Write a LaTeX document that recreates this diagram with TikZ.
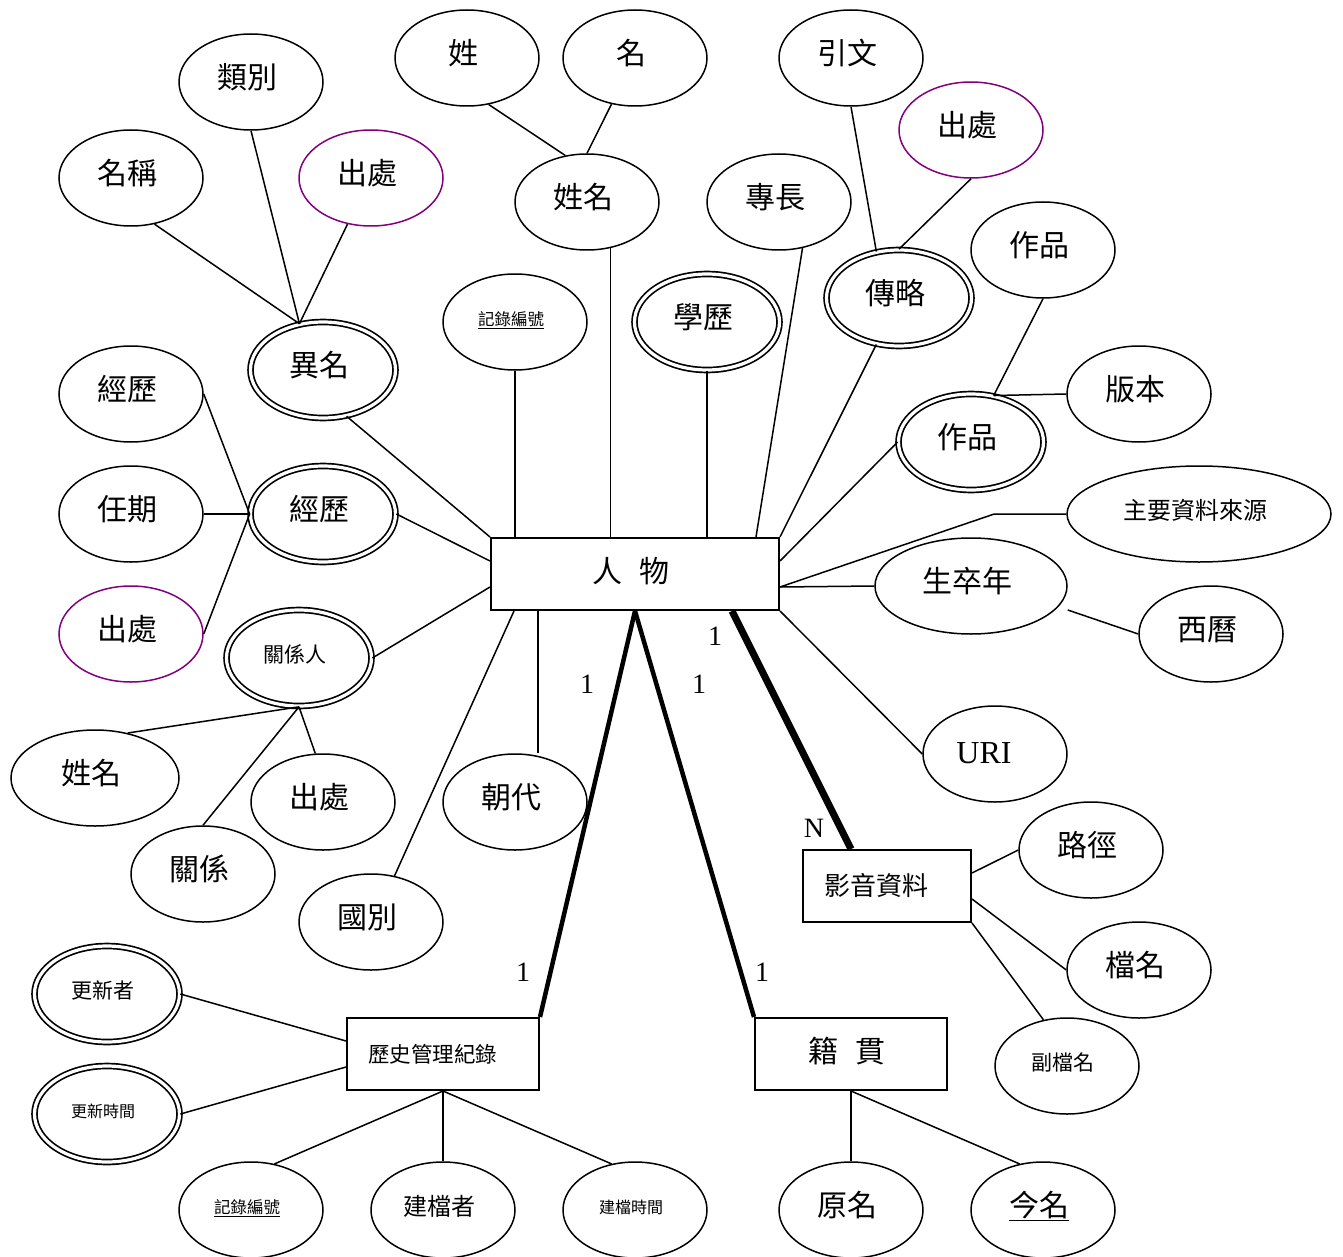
\documentclass[tikz,border=0pt]{standalone}
\usepackage{fontspec}
\setmainfont{Liberation Serif}
\newfontfamily\cjk{Noto Sans CJK TC}
\usetikzlibrary{shapes.geometric,calc}
\definecolor{srcpurple}{RGB}{128,0,128}
\newcommand\myfs[1]{\fontsize{#1}{#1}\selectfont}
\tikzset{
  nudge/.style={execute at end node={\kern8pt}, text height=#1, text depth=0pt},
  nudge/.default=12.5pt,
  attr/.style={ellipse, draw, line width=1.5pt, minimum width=144pt, minimum height=96pt, inner sep=0pt, font=\cjk\myfs{30}, nudge},
  src/.style={attr, draw=srcpurple},
  multi/.style={attr, double, double distance=3.2pt, line width=1.7pt, minimum width=145pt, minimum height=96pt},
  entity/.style={rectangle, draw, line width=2pt, minimum height=72pt, inner sep=0pt, font=\cjk\myfs{30}},
  conn/.style={line width=1.5pt},
  boldc/.style={line width=4.5pt},
  heavyc/.style={line width=7pt},
  card/.style={font=\myfs{28}, inner sep=0pt}
}
\begin{document}
\begin{tikzpicture}[x=1pt,y=-1pt]
\useasboundingbox (0,0) rectangle (1343,1257);
% entities
\node[entity, nudge=17pt, minimum width=288pt] (renwu) at (635,574) {人\hspace{17pt}物};
\node[entity, minimum width=168pt, text width=126pt, align=left, inner xsep=21pt, font=\cjk\myfs{26}] (yyzl) at (887,886) {影音資料};
\node[entity, minimum width=192pt, text width=150pt, align=left, inner xsep=21pt, font=\cjk\myfs{21.5}] (lishi) at (443,1054) {歷史管理紀錄};
\node[entity, nudge=17pt, minimum width=192pt] (jiguan) at (851,1054) {籍\hspace{17pt}貫};
% attributes
\node[attr] (leibie) at (251,82) {類別};
\node[attr] (mingcheng) at (131,178) {名稱};
\node[src] (chuchuA) at (371,178) {出處};
\node[attr] (xing) at (467,58) {姓};
\node[attr] (ming) at (635,58) {名};
\node[attr] (xingming) at (587,202) {姓名};
\node[attr] (zhuanchang) at (779,202) {專長};
\node[attr] (yinwen) at (851,58) {引文};
\node[src] (chuchuB) at (971,130) {出處};
\node[attr] (zuopinA) at (1043,250) {作品};
\node[multi] (zhuanlue) at (899,298) {傳略};
\node[attr, font=\cjk\myfs{16.5}, text height=7.4pt] (jiluA) at (515,322) {\underline{記錄編號}};
\node[multi] (xueli) at (707,322) {學歷};
\node[multi] (yiming) at (323,370) {異名};
\node[attr] (banben) at (1139,394) {版本};
\node[multi] (zuopinB) at (971,442) {作品};
\node[attr] (jingliA) at (131,394) {經歷};
\node[multi] (jingliB) at (323,514) {經歷};
\node[attr] (renqi) at (131,514) {任期};
\node[src] (chuchuC) at (131,634) {出處};
\node[multi, font=\cjk\myfs{21}, text height=8.8pt] (guanxiren) at (299,658) {關係人};
\node[attr, minimum width=168pt] (xingmingB) at (95,778) {姓名};
\node[attr] (chuchuD) at (323,802) {出處};
\node[attr] (guanxi) at (203,874) {關係};
\node[attr] (chaodai) at (515,802) {朝代};
\node[attr] (guobie) at (371,922) {國別};
\node[attr, minimum width=264pt, font=\cjk\myfs{24}, text height=10pt] (zyzl) at (1199,514) {主要資料來源};
\node[attr, minimum width=192pt] (szn) at (971,586) {生卒年};
\node[attr] (xili) at (1211,634) {西曆};
\node[attr, font=\myfs{32}, execute at end node={\kern14pt}, text height=18pt] (uri) at (995,754) {URI};
\node[attr] (lujing) at (1091,850) {路徑};
\node[attr] (dangming) at (1139,970) {檔名};
\node[attr, font=\cjk\myfs{21}, text height=8.8pt] (fudang) at (1067,1066) {副檔名};
\node[multi, font=\cjk\myfs{21}, text height=8.8pt] (gengxinzhe) at (107,994) {更新者};
\node[multi, font=\cjk\myfs{16}, text height=7.2pt] (gengxinsj) at (107,1114) {更新時間};
\node[attr, font=\cjk\myfs{16.5}, text height=7.4pt] (jiluB) at (251,1210) {\underline{記錄編號}};
\node[attr, font=\cjk\myfs{24}, text height=10pt] (jiandangzhe) at (443,1210) {建檔者};
\node[attr, font=\cjk\myfs{16}, text height=7.2pt] (jiandangsj) at (635,1210) {建檔時間};
\node[attr] (yuanming) at (851,1210) {原名};
\node[attr] (jinming) at (1043,1210) {\underline{今名}};
% helper coordinates
\coordinate (cdtop) at ($(renwu.south west)+(48,0)$);
% connectors
\draw[conn] (mingcheng.-63) -- (yiming.117);
\draw[conn] (leibie.south) -- (yiming.117);
\draw[conn] (chuchuA.-117) -- (yiming.117);
\draw[conn] (yiming.-63) -- (renwu.north west);
\draw[conn] (xing.-65) -- (xingming.115);
\draw[conn] (ming.-117) -- (xingming.north);
\draw[conn] (xingming.-63) -- (xingming.-63 |- renwu.north);
\draw[conn] (jiluA.south) -- (jiluA.south |- renwu.north);
\draw[conn] (xueli.south) -- (xueli.south |- renwu.north);
\draw[conn] (zhuanchang.-63) -- ($(renwu.north east)+(-24,0)$);
\draw[conn] (yinwen.south) -- (zhuanlue.116);
\draw[conn] (chuchuB.south) -- (zhuanlue.north);
\draw[conn] (zhuanlue.-116) -- (renwu.north east);
\draw[conn] (zuopinA.south) -- (zuopinB.64);
\draw[conn] (banben.west) -- (zuopinB.64);
\draw[conn] (zuopinB.west) -- ($(renwu.north east)+(0,24)$);
\draw[conn] (zyzl.west) -- ++(-72,0) -- ($(renwu.south east)+(0,-24)$);
\draw[conn] (szn.west) -- ($(renwu.south east)+(0,-24)$);
\draw[conn] ($(szn.east)+(0,24)$) -- (xili.west);
\draw[conn] (renwu.south east) -- (uri.west);
\draw[heavyc] ($(renwu.south east)+(-48,0)$) -- ($(yyzl.north)+(-36,0)$);
\draw[boldc] (renwu.south) -- (lishi.north east);
\draw[boldc] (renwu.south) -- (jiguan.north west);
\draw[conn] ($(renwu.south west)+(24,0)$) -- (guobie.63);
\draw[conn] (cdtop) -- (cdtop |- chaodai.north);
\draw[conn] (jingliB.east) -- ($(renwu.north west)+(0,24)$);
\draw[conn] (guanxiren.east) -- ($(renwu.south west)+(0,-24)$);
\draw[conn] (jingliA.east) -- (jingliB.west);
\draw[conn] (renqi.east) -- (jingliB.west);
\draw[conn] (chuchuC.east) -- (jingliB.west);
\draw[conn] (guanxiren.south) -- (xingmingB.54);
\draw[conn] (guanxiren.south) -- (chuchuD.99);
\draw[conn] (guanxiren.south) -- (guanxi.north);
\draw[conn] (gengxinzhe.east) -- ($(lishi.north west)+(0,24)$);
\draw[conn] (gengxinsj.east) -- ($(lishi.south west)+(0,-24)$);
\draw[conn] (lishi.south) -- (jiluB.63);
\draw[conn] (lishi.south) -- (jiandangzhe.north);
\draw[conn] (lishi.south) -- (jiandangsj.117);
\draw[conn] (jiguan.south) -- (yuanming.north);
\draw[conn] (jiguan.south) -- (jinming.117);
\draw[conn] ($(yyzl.north east)+(0,24)$) -- (lujing.west);
\draw[conn] ($(yyzl.south east)+(0,-24)$) -- (dangming.west);
\draw[conn] (yyzl.south east) -- (fudang.117);
% cardinalities
\node[card] (c1) at (715,636) {1};
\node[card] (c2) at (587,684) {1};
\node[card] (c3) at (699,684) {1};
\node[card] (c4) at (814,828) {N};
\node[card] (c5) at (523,972) {1};
\node[card] (c6) at (762,972) {1};
\end{tikzpicture}
\end{document}
